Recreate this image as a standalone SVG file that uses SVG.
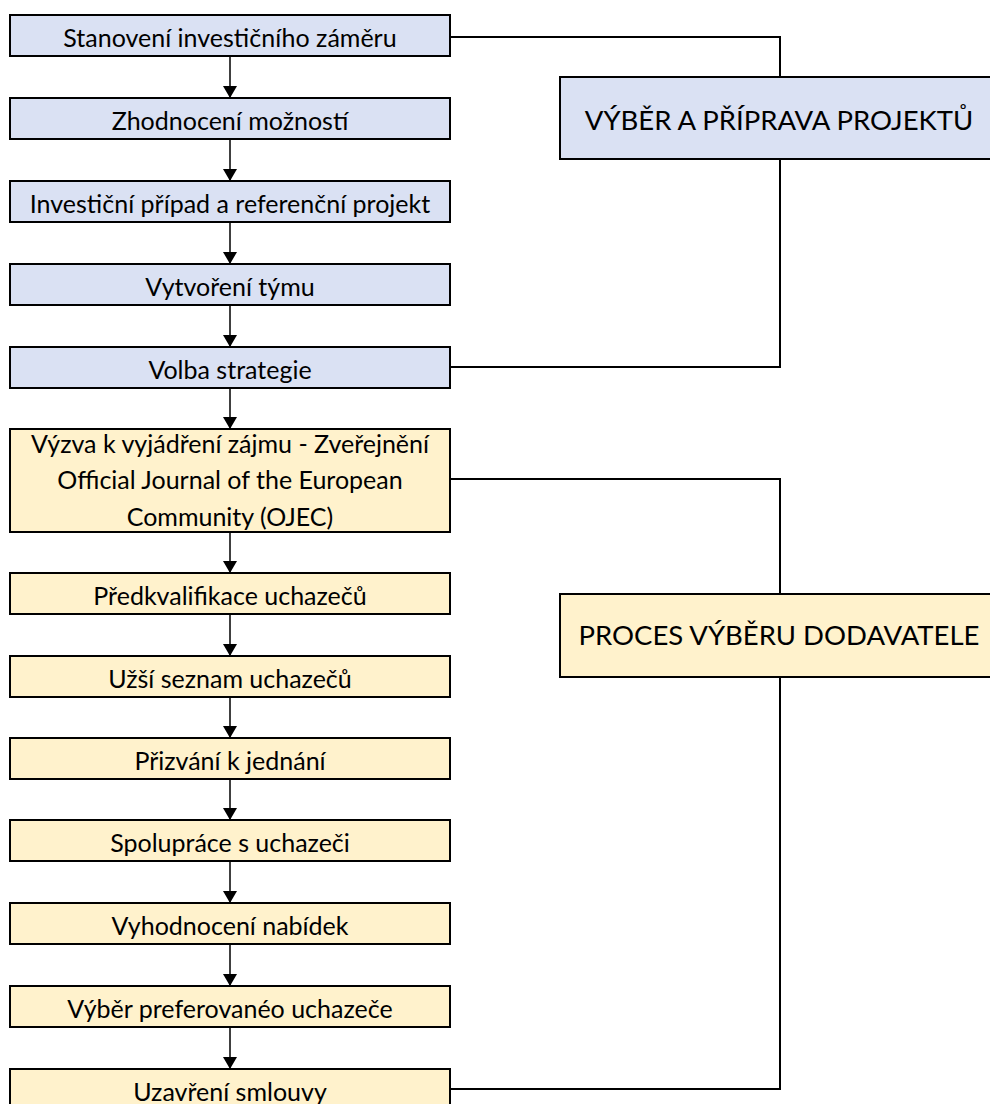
<svg xmlns="http://www.w3.org/2000/svg" width="990" height="1104" viewBox="0 0 990 1104">
<style>
  .blue { fill: #DAE1F3; stroke: #000; stroke-width: 2; }
  .yel { fill: #FFF2CC; stroke: #000; stroke-width: 2; }
  .t { font-family: Lato, "Liberation Sans", sans-serif; font-size: 25px; fill: #000; text-anchor: middle; }
  .big { font-family: Lato, "Liberation Sans", sans-serif; font-size: 27.5px; fill: #000; text-anchor: middle; }
  .arrow { stroke: #000; stroke-width: 1.5; fill: none; marker-end: url(#ah); }
  .br { stroke: #000; stroke-width: 2; fill: none; }
</style>
<defs>
  <marker id="ah" viewBox="0 0 12 14" refX="12" refY="7" markerWidth="12" markerHeight="14" markerUnits="userSpaceOnUse" orient="auto">
    <path d="M0,0 L12,7 L0,14 z" fill="#000"/>
  </marker>
</defs>
<rect width="990" height="1104" fill="#fff"/>
<g id="connectors">
  <polyline class="br" points="450,37 780,37 780,367 450,367"/>
  <polyline class="br" points="450,479 780,479 780,1089 450,1089"/>
  <line class="arrow" x1="230" y1="56" x2="230" y2="98"/>
  <line class="arrow" x1="230" y1="139" x2="230" y2="181"/>
  <line class="arrow" x1="230" y1="222" x2="230" y2="264"/>
  <line class="arrow" x1="230" y1="305" x2="230" y2="347"/>
  <line class="arrow" x1="230" y1="388" x2="230" y2="429"/>
  <line class="arrow" x1="230" y1="532" x2="230" y2="573"/>
  <line class="arrow" x1="230" y1="614" x2="230" y2="656"/>
  <line class="arrow" x1="230" y1="697" x2="230" y2="738"/>
  <line class="arrow" x1="230" y1="779" x2="230" y2="820"/>
  <line class="arrow" x1="230" y1="861" x2="230" y2="903"/>
  <line class="arrow" x1="230" y1="944" x2="230" y2="986"/>
  <line class="arrow" x1="230" y1="1027" x2="230" y2="1069"/>
</g>
<g id="n1"><rect class="blue" x="10" y="15" width="440" height="41"/><text class="t" x="230" y="46.5">Stanovení investičního záměru</text></g>
<g id="n2"><rect class="blue" x="10" y="98" width="440" height="41"/><text class="t" x="230" y="129.5">Zhodnocení možností</text></g>
<g id="n3"><rect class="blue" x="10" y="181" width="440" height="41"/><text class="t" x="230" y="212.5">Investiční případ a referenční projekt</text></g>
<g id="n4"><rect class="blue" x="10" y="264" width="440" height="41"/><text class="t" x="230" y="295.5">Vytvoření týmu</text></g>
<g id="n5"><rect class="blue" x="10" y="347" width="440" height="41"/><text class="t" x="230" y="378.5">Volba strategie</text></g>
<g id="n6"><rect class="yel" x="10" y="429" width="440" height="103"/>
  <text class="t" x="230" y="453">Výzva k vyjádření zájmu - Zveřejnění</text>
  <text class="t" x="230" y="489">Official Journal of the European</text>
  <text class="t" x="230" y="526">Community (OJEC)</text></g>
<g id="n7"><rect class="yel" x="10" y="573" width="440" height="41"/><text class="t" x="230" y="604.5">Předkvalifikace uchazečů</text></g>
<g id="n8"><rect class="yel" x="10" y="656" width="440" height="41"/><text class="t" x="230" y="687.5">Užší seznam uchazečů</text></g>
<g id="n9"><rect class="yel" x="10" y="738" width="440" height="41"/><text class="t" x="230" y="769.5">Přizvání k jednání</text></g>
<g id="n10"><rect class="yel" x="10" y="820" width="440" height="41"/><text class="t" x="230" y="851.5">Spolupráce s uchazeči</text></g>
<g id="n11"><rect class="yel" x="10" y="903" width="440" height="41"/><text class="t" x="230" y="934.5">Vyhodnocení nabídek</text></g>
<g id="n12"><rect class="yel" x="10" y="986" width="440" height="41"/><text class="t" x="230" y="1017.5">Výběr preferovanéo uchazeče</text></g>
<g id="n13"><rect class="yel" x="10" y="1069" width="440" height="41"/><text class="t" x="230" y="1100.5">Uzavření smlouvy</text></g>
<g id="gA"><rect class="blue" x="560" y="77" width="440" height="82"/><text class="big" x="779" y="130">VÝBĚR A PŘÍPRAVA PROJEKTŮ</text></g>
<g id="gB"><rect class="yel" x="560" y="594" width="440" height="83"/><text class="big" x="779" y="645">PROCES VÝBĚRU DODAVATELE</text></g>
</svg>
